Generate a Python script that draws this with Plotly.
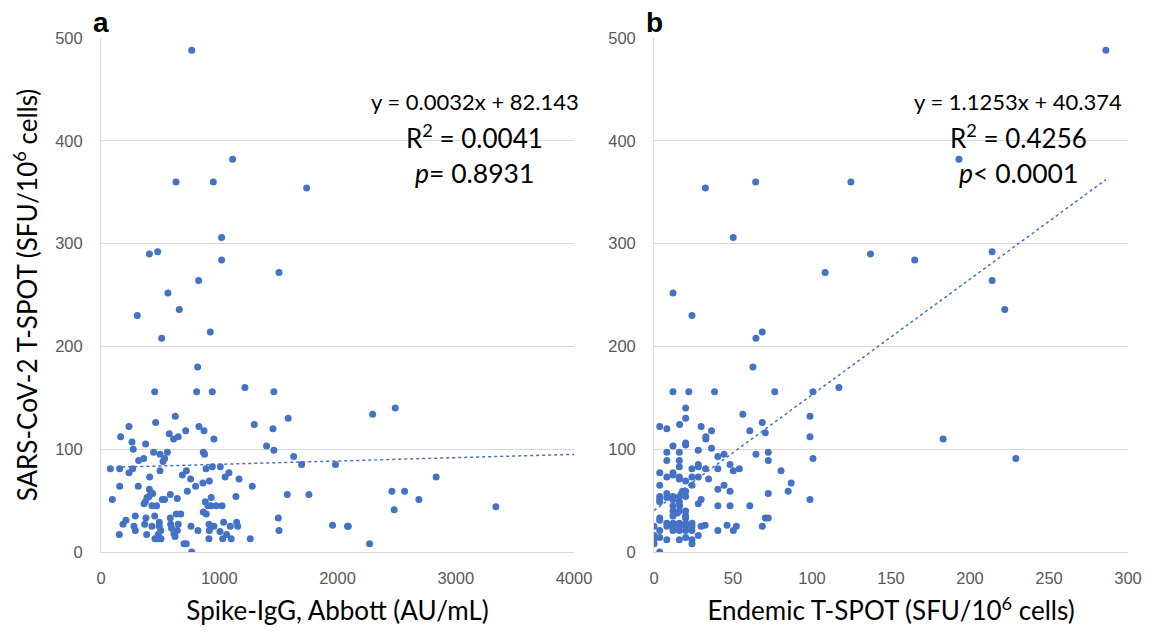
import plotly.graph_objects as go

# panel a: Spike-IgG (AU/mL) vs SARS-CoV-2 T-SPOT (SFU/10^6 cells)
igg_x = [767, 1113, 634, 950, 1739, 1020, 409, 479, 1020, 1505, 826, 566, 307, 662, 924, 513, 817,
         454, 809, 941, 1217, 1462, 628, 237, 462, 166, 577, 614, 653, 716, 828, 871, 955, 1296, 1454,
         1583, 262, 273, 377, 445, 499, 561, 538, 524, 865, 876, 1400, 1462, 1629, 1696, 1983, 318, 361,
         79, 158, 237, 268, 499, 688, 722, 758, 888, 941, 1009, 1082, 1050, 1167, 411, 158, 315, 409,
         423, 437, 406, 389, 375, 364, 586, 645, 730, 800, 862, 916, 1279, 1141, 1575, 1758, 882, 932,
         904, 932, 975, 1023, 431, 470, 518, 538, 96, 290, 380, 454, 586, 637, 674, 865, 890, 211, 186,
         279, 290, 369, 431, 493, 493, 505, 484, 507, 470, 589, 597, 653, 645, 617, 626, 761, 820, 913,
         932, 955, 916, 913, 1006, 1029, 1062, 1093, 1101, 1147, 1156, 1037, 1262, 1499, 1505, 1958,
         2085, 155, 386, 702, 721, 767, 456, 499, 2297, 2488, 2834, 2460, 2567, 2688, 2479, 3339, 2091,
         2271]
igg_y = [488, 382, 360, 360, 354, 306, 290, 292, 284, 272, 264, 252, 230, 236, 214, 208, 180,
         156, 156, 156, 160, 156, 132, 122, 126, 112, 115, 110, 112, 118, 122, 118, 110, 124, 120,
         130, 107, 100, 105, 97, 95, 97, 91, 88, 97, 95, 103, 99, 93, 85, 85, 89, 91,
         81, 81, 77, 81, 79, 75, 79, 71, 81, 83, 83, 77, 73, 71, 73, 64, 64, 61,
         58, 57, 54, 53, 49, 47, 56, 52, 59, 64, 67, 69, 64, 54, 56, 56, 49, 53,
         45, 45, 45, 45, 45, 45, 51, 51, 51, 35, 33, 35, 33, 37, 37, 39, 37, 31, 27,
         25, 21, 27, 25, 29, 25, 21, 17, 13, 13, 27, 23, 27, 21, 18, 15, 25, 21, 27,
         25, 25, 21, 13, 20, 13, 17, 25, 13, 29, 25, 29, 13, 33, 21, 26,
         25, 17, 17, 8, 8, 0, 13, 13, 134, 140, 73, 59, 59, 51, 41, 44, 25,
         8]

# panel b: Endemic T-SPOT vs SARS-CoV-2 T-SPOT (SFU/10^6 cells)
end_x = [286, 193, 165, 214, 214, 222, 183, 229, 12, 32.5, 64.3, 124.6, 50.1, 108.3, 137,
         24, 64.5, 68.5, 62.6, 12, 22, 38.3, 76.4, 100.6, 117, 20, 20, 56.2, 98.7,
         3.6, 8.1, 16.2, 29.8, 36.4, 32.8, 32.8, 60.6, 68.5, 70.4, 98.7,
         20, 20, 12, 36.4, 8.1, 16, 28, 40.4, 44.3, 64.5, 72.3, 72.3, 100.6,
         8.1, 16, 16, 3.6, 8.1, 12, 12, 16, 16, 20, 24, 24, 28, 28, 28, 32.6, 34.5, 40.4, 48.1,
         50.2, 54, 80.4, 86.8, 84.9, 24, 44.3, 48.1, 40.4, 72.3, 3.6, 3.6, 3.6, 3.6, 8.1, 8.1,
         12, 12, 16, 16, 18, 20, 20, 29.8, 28, 40.4, 48.1, 60.6, 98.7,
         12, 12, 13.4, 14.7, 16, 20, 16.2, 3.6, 3.6, 8.1, 8.1, 12, 12, 16, 16, 20, 20, 24, 24, 20,
         12, 16, 20, 24, 0, 0, 0, 0, 3.6, 3.6, 8.1, 16, 20, 24, 24, 3.6,
         28, 29.8, 32.3, 40.4, 46.2, 50.2, 52.1, 68.5, 70.4, 72.3, 12, 20]
end_y = [488, 382, 284, 292, 264, 236, 110, 91, 252, 354, 360, 360, 306, 272, 290,
         230, 208, 214, 180, 156, 156, 156, 156, 156, 160, 140, 130, 134, 132,
         122, 120, 124, 122, 118, 112, 110, 118, 126, 116, 112,
         106, 104, 103, 101, 97, 97, 99, 93, 95, 95, 97, 89, 91,
         89, 89, 83, 77, 73, 77, 75, 73, 71, 69, 81, 73, 85, 83, 73, 81, 71, 81, 85,
         79, 81, 79, 67, 59, 65, 65, 59, 61, 57, 65, 54, 51, 49, 57, 53,
         54, 51, 54, 49, 59, 59, 54, 51, 47, 45, 45, 45, 51,
         45, 40, 38, 38, 40, 40, 45, 33, 31, 28, 25, 28, 25, 28, 25, 25, 33, 28, 25, 28,
         21, 21, 21, 21, 25, 16, 12, 8, 21, 14, 12, 12, 14, 12, 8, 0,
         16, 25, 26, 21, 26, 21, 25, 25, 33, 33, 35, 35]

# trend lines as printed on the chart
fit_a = (0.0032, 82.143)
fit_b = (1.1253, 40.374)
line_a_x = [min(igg_x), 4000]
line_b_x = [0, max(end_x)]

blue = "#4472C4"
grid = "#d9d9d9"
tick_font = dict(family="Liberation Sans, Arial", size=16.5, color="#595959")
title_font = dict(family="Lato", size=26, color="black")

fig = go.Figure()
fig.add_trace(go.Scatter(x=igg_x, y=igg_y, mode="markers",
                         marker=dict(color=blue, size=7), xaxis="x", yaxis="y"))
fig.add_trace(go.Scatter(x=line_a_x, y=[fit_a[0] * v + fit_a[1] for v in line_a_x], mode="lines",
                         line=dict(color=blue, width=1.5, dash="dot"), xaxis="x", yaxis="y"))
fig.add_trace(go.Scatter(x=end_x, y=end_y, mode="markers",
                         marker=dict(color=blue, size=7), xaxis="x2", yaxis="y2"))
fig.add_trace(go.Scatter(x=line_b_x, y=[fit_b[0] * v + fit_b[1] for v in line_b_x], mode="lines",
                         line=dict(color=blue, width=1.5, dash="dot"), xaxis="x2", yaxis="y2"))

xcommon = dict(showgrid=False, zeroline=False, showline=True, linecolor=grid, linewidth=1,
               ticks="", tickfont=tick_font, ticklabelstandoff=11)
ycommon = dict(range=[0, 500], dtick=100, showgrid=True, gridcolor=grid, gridwidth=1,
               zeroline=False, showline=True, linecolor=grid, linewidth=1,
               ticks="", tickfont=tick_font, ticklabelstandoff=14)

# the page has an 8px body margin, so the margins are trimmed by 8
fig.update_layout(
    width=1155, height=635,
    margin=dict(l=93, r=35, t=30, b=91),
    paper_bgcolor="white", plot_bgcolor="white",
    showlegend=False,
    xaxis=dict(xcommon, domain=[0, 0.4606], range=[0, 4000], dtick=1000,
               title=dict(text="Spike-IgG, Abbott (AU/mL)", font=title_font, standoff=16)),
    yaxis=dict(ycommon, anchor="x",
               title=dict(text="SARS-CoV-2 T-SPOT (SFU/10<sup>6</sup> cells)", font=title_font,
                          standoff=12)),
    xaxis2=dict(xcommon, domain=[0.5385, 1], range=[0, 300], dtick=50, anchor="y2",
                title=dict(text="Endemic T-SPOT (SFU/10<sup>6</sup> cells)", font=title_font,
                           standoff=16)),
    yaxis2=dict(ycommon, anchor="x2"),
)

ann_sizes = [22, 26, 26.5]
for xr, yr, cx, lines, letter in [
    ("x domain", "y domain", 0.79,
     ["y = 0.0032x + 82.143", "R<sup>2</sup> = 0.0041", "<i>p</i>= 0.8931"], "a"),
    ("x2 domain", "y2 domain", 0.768,
     ["y = 1.1253x + 40.374", "R<sup>2</sup> = 0.4256", "<i>p</i>< 0.0001"], "b"),
]:
    for txt, yy, sz in zip(lines, [0.876, 0.809, 0.737], ann_sizes):
        fig.add_annotation(x=cx, y=yy, xref=xr, yref=yr, text=txt, showarrow=False,
                           xanchor="center", yanchor="middle",
                           font=dict(family="Lato", size=sz, color="black"))
    fig.add_annotation(x=0.0, y=1.031, xref=xr, yref=yr, text="<b>" + letter + "</b>",
                       showarrow=False, xanchor="center", yanchor="middle",
                       font=dict(family="Liberation Sans, Arial", size=28, color="black"))

fig.write_html("out.html")
